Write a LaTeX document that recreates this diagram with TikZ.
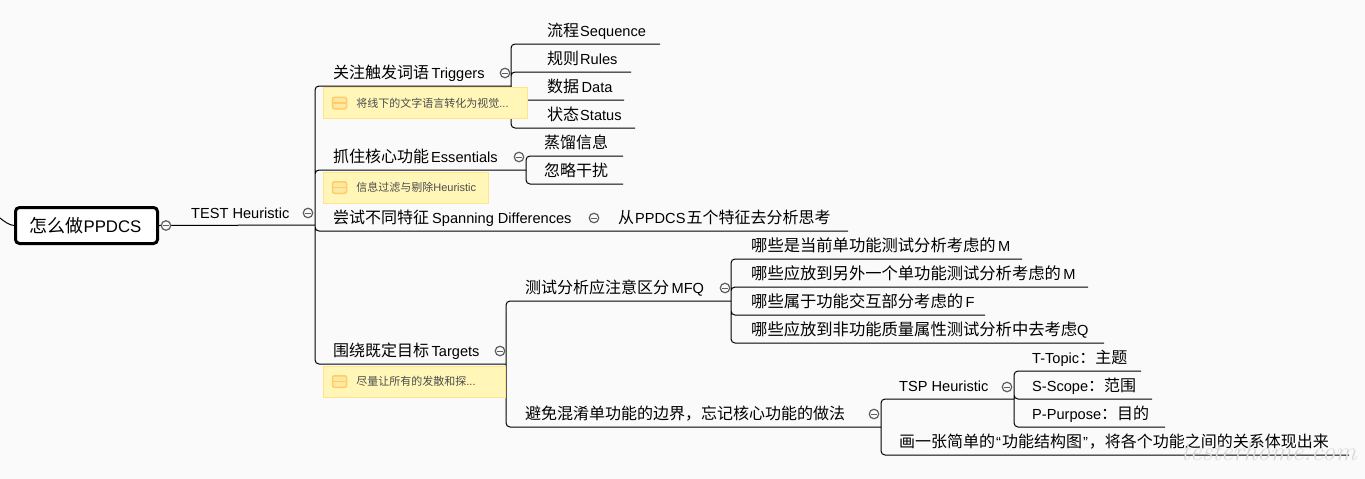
\documentclass[tikz,border=0pt]{standalone}
\usepackage{fontspec}
\setmainfont{Liberation Sans}
\newfontfamily\cjk{Noto Sans CJK SC}
\usetikzlibrary{positioning}
\definecolor{paper}{HTML}{FAFAFA}
\definecolor{notefill}{HTML}{FFF6B8}
\definecolor{noteline}{HTML}{FFE48A}
\definecolor{noteicon}{HTML}{FFCB6B}
\definecolor{foldgray}{HTML}{5F5F5F}
\def\zhsize{16}
\newcommand{\zh}[1]{{\cjk\fontsize{\zhsize}{18}\selectfont #1}}
\tikzset{
  topic/.style={anchor=base west, inner sep=0pt, text=black,
    font=\fontsize{14.6}{16}\selectfont},
  widetopic/.style={topic, font=\def\zhsize{16.3}\fontsize{14.6}{16}\selectfont},
  rootbox/.style={draw=black, line width=3pt, rounded corners=4pt, fill=white,
    minimum width=142pt, minimum height=36pt, inner sep=0pt,
    font=\def\zhsize{18}\fontsize{16.8}{18}\selectfont},
  link/.style={draw=black, line width=1pt, rounded corners=4pt},
  fold/.style={circle, draw=foldgray, line width=1.2pt, fill=paper, minimum size=9.5pt,
    inner sep=0pt, path picture={\draw[foldgray, line width=1pt]
      ([xshift=-2.8pt]path picture bounding box.center) --
      ([xshift=2.8pt]path picture bounding box.center);}},
  notebox/.style={anchor=north west, draw=noteline, fill=notefill, line width=.8pt,
    text width=#1, minimum height=31pt, inner sep=0pt, align=left, text=black!70,
    execute at begin node=\hspace*{33pt},
    font=\def\zhsize{11}\fontsize{11}{13}\selectfont},
  noteglyph/.style={draw=noteicon, fill=notefill!70!noteicon, line width=1.5pt,
    rounded corners=2pt, minimum width=14pt, minimum height=11.5pt, inner sep=0pt},
  stamp/.style={anchor=base west, inner sep=0pt, text=black!15,
    font=\fontfamily{lmr}\itshape\fontsize{26.5}{30}\selectfont}}

\begin{document}
\begin{tikzpicture}[x=1pt, y=-1pt]
  \fill[paper, use as bounding box] (0,0) rectangle (1365,479);

  % main branch
  \node[rootbox] (root) at (86.5,225.5) {\raisebox{2pt}{\kern-2pt\zh{怎么做}PPDCS}};
  \node[topic] (test) at (191,218) {TEST Heuristic};
  \node[topic] (trig) at (333,78) {\zh{关注触发词语}\,Triggers};
  \node[topic] (ess) at (333,162) {\zh{抓住核心功能}\kern2pt Essentials};
  \node[topic] (span) at (333,223) {\zh{尝试不同特征}\kern3pt Spanning Differences};
  \node[topic] (ppdcs) at (618,223) {\zh{从}\kern1pt PPDCS\kern1pt\zh{五个特征去分析思考}};
  \node[topic] (tgt) at (333,356) {\zh{围绕既定目标}\,Targets};

  % Triggers
  \node[topic] (seq) at (547,36) {\zh{流程}\kern1pt Sequence};
  \node[topic] (rul) at (547,64) {\zh{规则}\kern1pt Rules};
  \node[topic] (dat) at (547,92) {\zh{数据}\,Data};
  \node[topic] (sta) at (547,120) {\zh{状态}\kern1pt Status};

  % Essentials
  \node[topic] (dis) at (544,148) {\zh{蒸馏信息}};
  \node[topic] (ign) at (544,176) {\zh{忽略干扰}};

  % Targets
  \node[topic] (mfq) at (525,293) {\zh{测试分析应注意区分}\,MFQ};
  \node[topic] (bnd) at (525,419) {\zh{避免混淆单功能的边界，忘记核心功能的做法}};
  \node[widetopic] (m_1) at (751,251) {\zh{哪些是当前单功能测试分析考虑的}\,M};
  \node[widetopic] (m_2) at (751,279) {\zh{哪些应放到另外一个单功能测试分析考虑的}\,M};
  \node[widetopic] (f_1) at (751,307) {\zh{哪些属于功能交互部分考虑的}\,F};
  \node[widetopic] (q_1) at (751,335) {\zh{哪些应放到非功能质量属性测试分析中去考虑}Q};
  \node[topic] (tsp) at (899,391) {TSP Heuristic};
  \node[topic] (fun) at (899,447) {\zh{画一张简单的}\kern1pt“\kern1pt\zh{功能结构图}\kern1pt”\kern1pt\zh{，将各个功能之间的关系体现出来}};
  \node[topic] (t_1) at (1032,363) {T-Topic\zh{：主题}};
  \node[topic] (s_1) at (1032,391) {S-Scope\zh{：范围}};
  \node[topic] (p_1) at (1032,419) {P-Purpose\zh{：目的}};

  % ends of the underlines
  \coordinate (test_e) at (315,225);
  \coordinate (trig_e) at (511,86);
  \coordinate (ess_e) at (526,170);
  \coordinate (span_e) at (848,231);
  \coordinate (tgt_e) at (506,364);
  \coordinate (seq_e) at (660,44);
  \coordinate (rul_e) at (631,72);
  \coordinate (dat_e) at (624,100);
  \coordinate (sta_e) at (635,128);
  \coordinate (dis_e) at (623,156);
  \coordinate (ign_e) at (623,184);
  \coordinate (mfq_e) at (731,301);
  \coordinate (bnd_e) at (881,427);
  \coordinate (m_1_e) at (1022,259);
  \coordinate (m_2_e) at (1088,287);
  \coordinate (f_1_e) at (985,315);
  \coordinate (q_1_e) at (1104,343);
  \coordinate (tsp_e) at (1014,399);
  \coordinate (fun_e) at (1349,455);
  \coordinate (t_1_e) at (1141,371);
  \coordinate (s_1_e) at (1152,399);
  \coordinate (p_1_e) at (1165,427);
  \coordinate (stub) at (0,218);

  \draw[link] (stub) .. controls (5,222) and (9,225) .. (root.west);
  \draw[link] (root.east) -- (test_e);
  \draw[link]
    (test_e) |- (trig_e)
    (test_e) |- (span_e)
    (test_e) |- (ess_e)
    (test_e) |- (tgt_e);
  \draw[link]
    (trig_e) |- (seq_e)
    (trig_e) |- (rul_e)
    (trig_e) |- (dat_e)
    (trig_e) |- (sta_e);
  \draw[link]
    (ess_e) |- (dis_e)
    (ess_e) |- (ign_e);
  \draw[link]
    (tgt_e) |- (mfq_e)
    (tgt_e) |- (bnd_e);
  \draw[link]
    (mfq_e) |- (m_1_e)
    (mfq_e) |- (m_2_e)
    (mfq_e) |- (f_1_e)
    (mfq_e) |- (q_1_e);
  \draw[link]
    (bnd_e) |- (tsp_e)
    (bnd_e) |- (fun_e);
  \draw[link]
    (tsp_e) |- (t_1_e)
    (tsp_e) |- (s_1_e)
    (tsp_e) |- (p_1_e);

  % fold marks
  \node[fold] (fold_root) at (166,225.5) {};
  \node[fold] (fold_test) at (308,213) {};
  \node[fold] (fold_trig) at (505,73) {};
  \node[fold] (fold_ess) at (519,157) {};
  \node[fold] (fold_span) at (594,218) {};
  \node[fold] (fold_tgt) at (500,351) {};
  \node[fold] (fold_mfq) at (725,288) {};
  \node[fold] (fold_bnd) at (874,414) {};
  \node[fold] (fold_tsp) at (1007,387) {};

  % notes
  \node[notebox=203.5pt] (note_1) at (323,87) {\zh{将线下的文字语言转化为视觉}...};
  \node[notebox=165pt] (note_2) at (323,171.5) {\zh{信息过滤与剔除}Heuristic};
  \node[notebox=182pt] (note_3) at (323,365.5) {\zh{尽量让所有的发散和探}...};
  \node[noteglyph] (icon_1) at (339.5,103) {};
  \node[noteglyph] (icon_2) at (339.5,187.5) {};
  \node[noteglyph] (icon_3) at (339.5,381.5) {};
  \draw[draw=noteicon, line width=1.2pt]
    (icon_1.west) -- (icon_1.east)
    (icon_2.west) -- (icon_2.east)
    (icon_3.west) -- (icon_3.east);

  \node[stamp] (mark) at (1181,460) {testerhome.com};
\end{tikzpicture}
\end{document}
